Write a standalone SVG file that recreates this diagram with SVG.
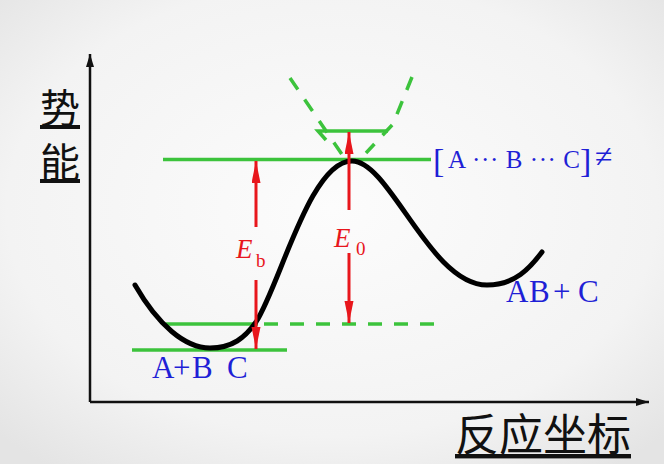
<svg xmlns="http://www.w3.org/2000/svg" width="664" height="464" viewBox="0 0 664 464">
<defs>
<radialGradient id="bg" cx="50%" cy="45%" r="70%">
<stop offset="0" stop-color="#fcfcfc"/>
<stop offset="0.7" stop-color="#f3f3f3"/>
<stop offset="1" stop-color="#e4e4e4"/>
</radialGradient>
<marker id="ra" markerUnits="userSpaceOnUse" markerWidth="24" markerHeight="10" refX="22" refY="4.5" orient="auto">
<path d="M0,0 L22,4.5 L0,9 z" fill="#e8161c"/>
</marker>
<marker id="ka" markerUnits="userSpaceOnUse" markerWidth="14" markerHeight="10" refX="13" refY="4" orient="auto">
<path d="M0,0 L13,4 L0,8 z" fill="#111"/>
</marker>
<style>
.ax{stroke:#111;stroke-width:2.5;fill:none}
.g{stroke:#3cc33c;stroke-width:3.5;fill:none}
.gd{stroke:#3cc33c;stroke-width:3.5;fill:none;stroke-dasharray:14 12}
.r{stroke:#e8161c;stroke-width:3;fill:none}
.cn{font-family:"Noto Sans CJK SC","Noto Sans",sans-serif;fill:#111;text-decoration:underline}
.bl{font-family:"Liberation Serif",serif;fill:#1f1fd6}
.rt{font-family:"Liberation Serif",serif;fill:#e8161c}
</style>
</defs>
<rect width="664" height="464" fill="url(#bg)"/>
<g id="connectors">
<path class="ax" d="M90,402 V54" marker-end="url(#ka)"/>
<path class="ax" d="M90,402 H649" marker-end="url(#ka)"/>
<path class="gd" d="M290,78 L343,156"/>
<path class="gd" d="M412,77 L393,124 L366,153"/>
<path class="g" d="M326,140 L318,131 L388,131"/>
<line class="g" x1="163" y1="159.5" x2="431" y2="159.5"/>
<line class="g" x1="166" y1="324" x2="258" y2="324"/>
<line class="gd" x1="264" y1="324" x2="434" y2="324"/>
<line class="g" x1="132" y1="350" x2="287" y2="350"/>
<path d="M135,285 C158,325 185,348 210,348 C232,348 245,338 256,322 C280,285 310,161 352,161 C390,161 430,285 487,285 C515,285 530,268 542,252" stroke="#000" stroke-width="5" fill="none" stroke-linecap="round"/>
<path class="r" d="M256,227 V161" marker-end="url(#ra)"/>
<path class="r" d="M256,280 V349" marker-end="url(#ra)"/>
<path class="r" d="M349,210 V132" marker-end="url(#ra)"/>
<path class="r" d="M349,253 V323" marker-end="url(#ra)"/>
</g>
<g id="y-label"><text class="cn" x="40" y="123" font-size="40">势</text><text class="cn" x="40" y="177" font-size="40">能</text></g>
<g id="x-label"><text class="cn" x="455" y="451" font-size="44">反应坐标</text></g>
<g id="ts-label"><text class="bl" x="433" y="172" font-size="34">[</text><text class="bl" x="448" y="168" font-size="25" textLength="132" lengthAdjust="spacing">A ··· B ··· C</text><text class="bl" x="580" y="172" font-size="34">]</text><text class="bl" x="595" y="167" font-size="32">≠</text></g>
<g id="r-label"><text class="bl" y="378" font-size="31"><tspan x="152">A</tspan><tspan x="173">+</tspan><tspan x="192">B</tspan><tspan x="227">C</tspan></text></g>
<g id="p-label"><text class="bl" y="302" font-size="31"><tspan x="506">A</tspan><tspan x="529">B</tspan><tspan x="553">+</tspan><tspan x="578">C</tspan></text></g>
<g id="eb-label"><text class="rt" x="236" y="258" font-size="27" font-style="italic">E</text><text class="rt" x="256" y="267" font-size="19">b</text></g>
<g id="e0-label"><text class="rt" x="334" y="247" font-size="27" font-style="italic">E</text><text class="rt" x="356" y="255" font-size="19">0</text></g>
</svg>
